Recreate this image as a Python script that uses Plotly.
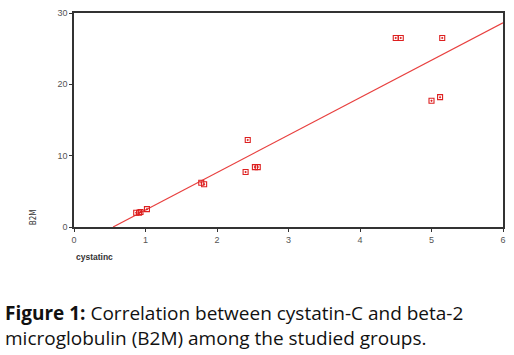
import plotly.graph_objects as go

# Data
cystatin_c = [0.87, 0.91, 0.93, 1.02, 1.78, 1.82, 2.40, 2.43, 2.53, 2.57, 4.50, 4.57, 5.15, 5.00, 5.12]
b2m = [2.0, 2.0, 2.1, 2.5, 6.2, 6.0, 7.7, 12.2, 8.4, 8.4, 26.5, 26.5, 26.5, 17.7, 18.2]
fit_slope = 5.25
fit_intercept = -2.87
x_ticks = [0, 1, 2, 3, 4, 5, 6]
y_ticks = [0, 10, 20, 30]

x_start = -fit_intercept / fit_slope
x_end = 6
fit_x = [x_start, x_end]
fit_y = [fit_intercept + fit_slope * v for v in fit_x]

fig = go.Figure()
fig.add_trace(go.Scatter(
    x=fit_x, y=fit_y, mode="lines",
    line=dict(color="#e8403f", width=1.2), showlegend=False, hoverinfo="skip"))
fig.add_trace(go.Scatter(
    x=cystatin_c, y=b2m, mode="markers",
    marker=dict(symbol="square-open-dot", size=5, color="#dd2020", line=dict(width=1.1)),
    showlegend=False))

axis_common = dict(
    showgrid=False, zeroline=False, showline=True, linecolor="#333333", linewidth=1.5,
    mirror=True, ticks="outside", ticklen=3, tickwidth=1, tickcolor="#333333",
    tickfont=dict(family="Liberation Sans, Arial", size=9, color="#555555"),
)

fig.update_xaxes(range=[0, 6], tickvals=x_ticks, **axis_common)
fig.update_yaxes(range=[0, 30], tickvals=y_ticks, **axis_common)

PW = 432  # plot area width in px
PH = 218  # plot area height in px
fig.add_annotation(text="B2M", xref="paper", yref="paper", x=-41/PW, y=0.0,
                   textangle=-90, showarrow=False, xanchor="center", yanchor="bottom",
                   font=dict(family="DejaVu Sans Condensed, Liberation Sans Narrow", size=8, color="#333333"))
fig.add_annotation(text="<b>cystatinc</b>", xref="paper", yref="paper", x=0.0, y=-31/PH,
                   showarrow=False, xanchor="left", yanchor="middle",
                   font=dict(family="Liberation Sans, Arial", size=8.5, color="#333333"))
fig.add_annotation(
    text="<b>Figure 1:</b> Correlation between cystatin-C and beta-2<br>microglobulin (B2M) among the studied groups.",
    xref="paper", yref="paper", x=-71/PW, y=-72/PH, showarrow=False,
    xanchor="left", yanchor="top", align="left",
    font=dict(family="Open Sans, Noto Sans", size=19, color="#111111"))

fig.update_layout(
    width=514, height=355,
    margin=dict(l=74, r=8, t=9, b=128),
    plot_bgcolor="white", paper_bgcolor="white",
)

fig.write_html("out.html", config={"displayModeBar": False},
               post_script="document.body.style.margin='0';")
